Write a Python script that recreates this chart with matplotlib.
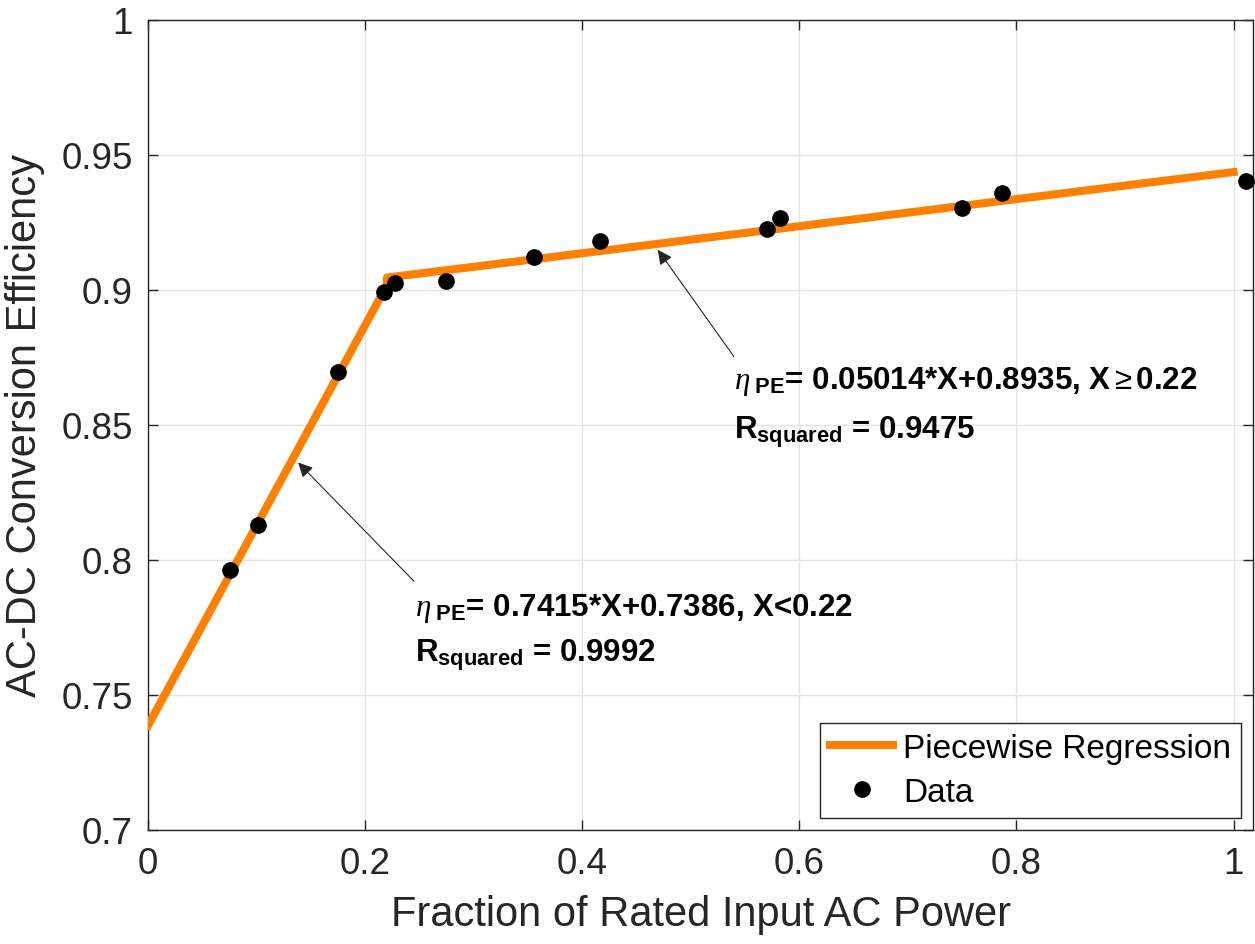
import matplotlib
matplotlib.use("Agg")
import matplotlib.pyplot as plt

plt.rcParams['font.family'] = ['Liberation Sans', 'DejaVu Sans']
plt.rcParams['mathtext.fontset'] = 'custom'
plt.rcParams['mathtext.rm'] = 'Liberation Sans'
plt.rcParams['mathtext.bf'] = 'Liberation Sans:bold'
plt.rcParams['mathtext.it'] = 'Liberation Serif:italic'

# measured points
data_x = [0.0756, 0.1017, 0.1745, 0.2169, 0.2276, 0.2747, 0.3551, 0.4159,
          0.5699, 0.5825, 0.7495, 0.7864, 1.0118]
data_y = [0.7961, 0.8130, 0.8697, 0.8990, 0.9025, 0.9031, 0.9123, 0.9181,
          0.9224, 0.9265, 0.9302, 0.9357, 0.9402]

# piecewise regression line vertices
fit_x = [0.0, 0.22, 0.22, 1.0]
fit_y = [0.7386, 0.9017, 0.9045, 0.9436]

xticks = [0, 0.2, 0.4, 0.6, 0.8, 1]
xtick_labels = ["0", "0.2", "0.4", "0.6", "0.8", "1"]
yticks = [0.7, 0.75, 0.8, 0.85, 0.9, 0.95, 1]
ytick_labels = ["0.7", "0.75", "0.8", "0.85", "0.9", "0.95", "1"]

fig = plt.figure(figsize=(12.55, 9.45), dpi=100)
ax = fig.add_axes([0.118, 0.121, 0.8805, 0.857])

ax.plot(fit_x, fit_y, color='#FF8000', lw=5.8, label='Piecewise Regression', zorder=3)
ax.plot(data_x, data_y, 'o', color='black', ms=11, label='Data', zorder=4, clip_on=False)

ax.set_xlim(0, 1.018)
ax.set_ylim(0.7, 1.0)
ax.set_xticks(xticks)
ax.set_xticklabels(xtick_labels)
ax.set_yticks(yticks)
ax.set_yticklabels(ytick_labels)
ax.tick_params(direction='in', length=7.5, width=1, colors='#262626',
               labelsize=26.5, top=True, right=True)
ax.tick_params(axis='x', pad=12)
ax.tick_params(axis='y', pad=11)
for s in ax.spines.values():
    s.set_color('#262626')
    s.set_linewidth(1)
ax.grid(True, color='#e3e3e3', lw=1)
ax.set_axisbelow(True)

ax.set_xlabel('Fraction of Rated Input AC Power', fontsize=30, color='#262626', labelpad=9)
ax.set_ylabel('AC-DC Conversion Efficiency', fontsize=30, color='#262626', labelpad=12)

# annotations
ax.annotate('', xy=(0.1382, 0.836), xytext=(0.245, 0.792),
            arrowprops=dict(arrowstyle='-|>', color='#262626', lw=0.8,
                            mutation_scale=22, shrinkA=0, shrinkB=0))
ax.text(0.246, 0.7796, r'$\mathit{\eta}_{\ \mathbf{PE}}$= 0.7415*X+0.7386, X<0.22',
        fontsize=22.5, fontweight='bold', va='baseline')
ax.text(0.246, 0.7626, r'R$_{\mathbf{squared}}$ = 0.9992',
        fontsize=22.5, fontweight='bold', va='baseline')

ax.annotate('', xy=(0.4696, 0.9148), xytext=(0.5396, 0.8753),
            arrowprops=dict(arrowstyle='-|>', color='#262626', lw=0.8,
                            mutation_scale=22, shrinkA=0, shrinkB=0))
ax.text(0.5397, 0.8637, r'$\mathit{\eta}_{\ \mathbf{PE}}$= 0.05014*X+0.8935, X$\geq$0.22',
        fontsize=22.5, fontweight='bold', va='baseline')
ax.text(0.5397, 0.8452, r'R$_{\mathbf{squared}}$ = 0.9475',
        fontsize=22.5, fontweight='bold', va='baseline')

leg = ax.legend(loc='lower right', fontsize=24, frameon=True, fancybox=False,
                edgecolor='#262626', framealpha=1, borderpad=0.3,
                handlelength=1.9, handletextpad=0.3, labelspacing=0.4,
                borderaxespad=0.35)
leg.get_frame().set_linewidth(1)

fig.savefig('out.png', dpi=100)
